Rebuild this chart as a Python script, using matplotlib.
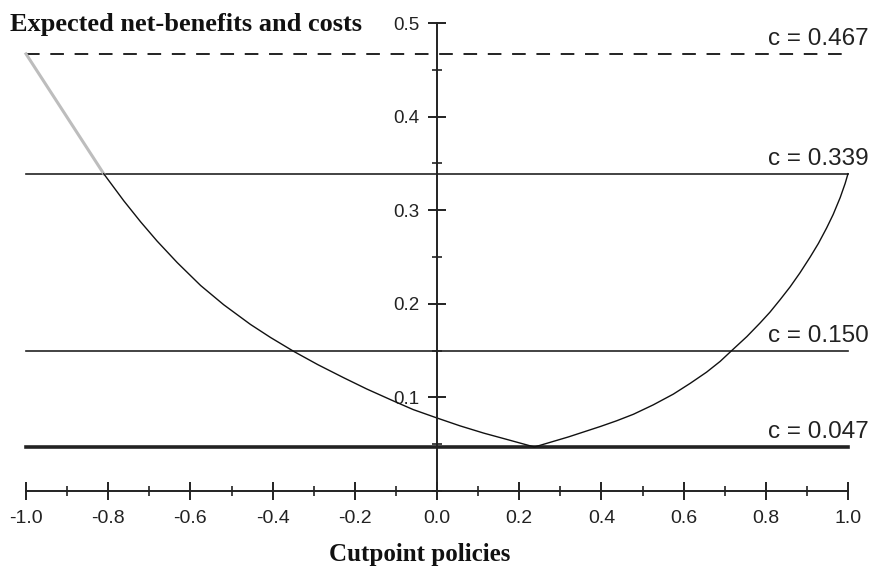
#!/usr/bin/env python3
"""
Expected net-benefits vs. cutpoint policies, with cost thresholds c.
"""

import matplotlib.pyplot as plt
from matplotlib.ticker import MultipleLocator

# Net-benefit curve (cutpoint x, value y)
grey_x = [-1.0, -0.811]
grey_y = [0.467, 0.339]

curve_x = [-0.811, -0.762, -0.721, -0.681, -0.632, -0.575, -0.519, -0.454,
           -0.405, -0.348, -0.290, -0.227, -0.171, -0.105, -0.058, 0.0,
           0.056, 0.114, 0.170, 0.237,
           0.320, 0.398, 0.437, 0.478, 0.526, 0.575, 0.616, 0.656, 0.689,
           0.717, 0.754, 0.786, 0.810, 0.835, 0.859, 0.883, 0.908, 0.928,
           0.948, 0.964, 0.981, 0.993, 1.0]
curve_y = [0.339, 0.310, 0.2875, 0.267, 0.244, 0.2195, 0.199, 0.178,
           0.164, 0.149, 0.135, 0.121, 0.109, 0.096, 0.087, 0.078,
           0.0696, 0.0618, 0.0551, 0.047,
           0.0578, 0.069, 0.075, 0.082, 0.092, 0.1035, 0.115, 0.127, 0.1385,
           0.150, 0.165, 0.1795, 0.191, 0.2045, 0.218, 0.233, 0.250, 0.2645,
           0.281, 0.2955, 0.3135, 0.3285, 0.339]

# Cost levels drawn as horizontal lines
costs = [0.467, 0.339, 0.150, 0.047]
cost_styles = ['--', '-', '-', '-']
cost_widths = [1.4, 1.2, 1.2, 2.6]

x_ticks = [-1.0, -0.8, -0.6, -0.4, -0.2, 0.0, 0.2, 0.4, 0.6, 0.8, 1.0]
y_ticks = [0.1, 0.2, 0.3, 0.4, 0.5]

SERIF = 'Liberation Serif'
SANS = 'Liberation Sans'
INK = '#222222'


def main():
    fig = plt.figure(figsize=(8.71, 5.70), dpi=100)
    ax = fig.add_axes([26 / 871, 79 / 570, 822 / 871, 468 / 570])
    ax.set_xlim(-1, 1)
    ax.set_ylim(0, 0.5)

    # axes crossing at x = 0, y = 0
    ax.spines['left'].set_position(('data', 0))
    ax.spines['bottom'].set_position(('data', 0))
    ax.spines['top'].set_visible(False)
    ax.spines['right'].set_visible(False)
    for s in ('left', 'bottom'):
        ax.spines[s].set_linewidth(1.4)
        ax.spines[s].set_color(INK)
        ax.spines[s].set_clip_on(False)

    ax.set_xticks(x_ticks)
    ax.set_xticklabels([f'{v:.1f}' for v in x_ticks], fontfamily=SANS, fontsize=14)
    ax.set_yticks(y_ticks)
    ax.set_yticklabels([f'{v:.1f}' for v in y_ticks], fontfamily=SANS, fontsize=13.5)
    ax.xaxis.set_minor_locator(MultipleLocator(0.1))
    ax.yaxis.set_minor_locator(MultipleLocator(0.05))
    ax.tick_params(which='major', direction='inout', length=13, width=1.4,
                   color=INK, labelcolor=INK)
    ax.tick_params(which='minor', direction='inout', length=7, width=1.2,
                   color=INK)
    ax.tick_params(axis='x', which='major', pad=7)
    ax.tick_params(axis='y', which='major', pad=6)

    # cost lines and labels
    for c, ls, lw in zip(costs, cost_styles, cost_widths):
        kw = dict(dashes=(7, 5.5)) if ls == '--' else {}
        ax.plot([-1, 1], [c, c], ls, color=INK, lw=lw, clip_on=False, **kw)
        ax.text(1.05, c + 0.004, f'c = {c:.3f}', ha='right', va='bottom',
                fontfamily=SANS, fontsize=17.5, color=INK, clip_on=False)

    # net-benefit curve
    ax.plot(grey_x, grey_y, color='#bdbdbd', lw=2.2, clip_on=False)
    ax.plot(curve_x, curve_y, color='#111111', lw=1.0, clip_on=False)

    fig.text(10 / 871, 1 - 24 / 570, 'Expected net-benefits and costs',
             ha='left', va='center', fontfamily=SERIF, fontweight='bold',
             fontsize=19, color='#111111')
    fig.text(420 / 871, 1 - 555 / 570, 'Cutpoint policies',
             ha='center', va='center', fontfamily=SERIF, fontweight='bold',
             fontsize=18, color='#111111')

    fig.savefig('out.png', dpi=100)
    plt.close(fig)


if __name__ == '__main__':
    main()
